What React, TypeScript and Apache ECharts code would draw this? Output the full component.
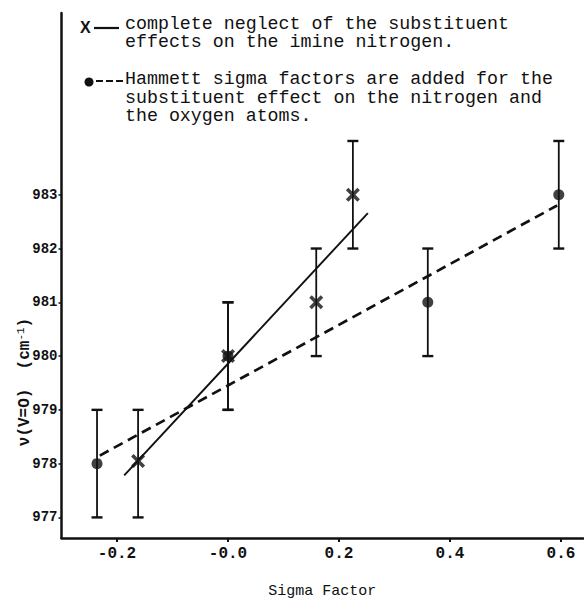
import React, { useEffect, useRef } from "react";
import * as echarts from "echarts";

// ---- data ----
const dotX = [-0.236, 0.0, 0.36, 0.596];
const dotY = [978.0, 980.0, 981.0, 983.0];
const dotLow = [977, 979, 980, 982];
const dotHigh = [979, 981, 982, 984];

const crossX = [-0.162, 0.0, 0.159, 0.225];
const crossY = [978.05, 980.0, 981.0, 983.0];
const crossLow = [977, 979, 980, 982];
const crossHigh = [979, 981, 982, 984];

const solidFitX = [-0.187, 0.252];
const solidFitY = [977.78, 982.66];
const dashedFitX = [-0.231, 0.593];
const dashedFitY = [978.15, 982.8];

const xTickValues = [-0.2, 0, 0.2, 0.4, 0.6];
const xTickLabels = ["-0.2", "-0.0", "0.2", "0.4", "0.6"];
const yTickValues = [977, 978, 979, 980, 981, 982, 983];
const yTickLabels = ["977", "978", "979", "980", "981", "982", "983"];

const legendCross = ["complete neglect of the substituent", "effects on the imine nitrogen."];
const legendDot = [
  "Hammett sigma factors are added for the",
  "substituent effect on the nitrogen and",
  "the oxygen atoms.",
];
const xTitle = "Sigma Factor";

const MONO = "'Liberation Mono', 'DejaVu Sans Mono', monospace";
const INK = "#111";

export default function App() {
  const ref = useRef<HTMLDivElement>(null);
  useEffect(() => {
    if (!ref.current) return;
    const chart = echarts.init(ref.current, undefined, { renderer: "svg" });

    const errData = [
      ...dotX.map((x, i) => [x, dotLow[i], dotHigh[i]]),
      ...crossX.map((x, i) => [x, crossLow[i], crossHigh[i]]),
    ];

    const option: any = {
      animation: false,
      backgroundColor: "#fff",
      grid: { left: 61.5, right: 0.8, top: 13, bottom: 56 },
      xAxis: {
        type: "value",
        min: -0.3,
        max: 0.64,
        name: xTitle,
        nameLocation: "middle",
        nameGap: 46,
        nameTextStyle: { fontFamily: MONO, fontSize: 15, color: INK },
        axisLine: { show: true, onZero: false, lineStyle: { color: INK, width: 2.5 } },
        axisTick: { show: true, customValues: xTickValues, length: 4, lineStyle: { color: INK, width: 2 } },
        axisLabel: {
          customValues: xTickValues,
          formatter: (v: number) => {
            const i = xTickValues.findIndex((t) => Math.abs(t - v) < 1e-9);
            return i >= 0 ? xTickLabels[i] : "";
          },
          fontFamily: MONO,
          fontSize: 16,
          fontWeight: "bold",
          color: INK,
          margin: 8,
        },
        splitLine: { show: false },
      },
      yAxis: {
        type: "value",
        min: 976.617,
        max: 986.38,
        axisLine: { show: true, onZero: false, lineStyle: { color: INK, width: 2.5 } },
        axisTick: { show: true, customValues: yTickValues, length: 3, lineStyle: { color: INK, width: 1.5 } },
        axisLabel: {
          customValues: yTickValues,
          formatter: (v: number) => {
            const i = yTickValues.findIndex((t) => Math.abs(t - v) < 1e-9);
            return i >= 0 ? yTickLabels[i] : "";
          },
          fontFamily: MONO,
          fontSize: 14,
          fontWeight: "bold",
          color: INK,
          margin: 4,
        },
        splitLine: { show: false },
      },
      series: [
        {
          type: "custom",
          name: "error bars",
          data: errData,
          encode: { x: 0, y: [1, 2] },
          z: 2,
          renderItem: (params: any, api: any) => {
            const x = api.value(0);
            const lo = api.coord([x, api.value(1)]);
            const hi = api.coord([x, api.value(2)]);
            const c = 5.5;
            const st = { stroke: INK, lineWidth: 1.8 };
            return {
              type: "group",
              children: [
                { type: "line", shape: { x1: lo[0], y1: lo[1], x2: hi[0], y2: hi[1] }, style: st },
                { type: "line", shape: { x1: lo[0] - c, y1: lo[1], x2: lo[0] + c, y2: lo[1] }, style: { ...st, lineWidth: 2.4 } },
                { type: "line", shape: { x1: hi[0] - c, y1: hi[1], x2: hi[0] + c, y2: hi[1] }, style: { ...st, lineWidth: 2.4 } },
              ],
            };
          },
        },
        {
          type: "line",
          name: "fit (neglect)",
          data: solidFitX.map((x, i) => [x, solidFitY[i]]),
          showSymbol: false,
          symbol: "none",
          lineStyle: { color: INK, width: 1.9 },
          z: 3,
        },
        {
          type: "line",
          name: "fit (Hammett)",
          data: dashedFitX.map((x, i) => [x, dashedFitY[i]]),
          showSymbol: false,
          symbol: "none",
          lineStyle: { color: INK, width: 2.7, type: [10, 6] },
          z: 3,
        },
        {
          type: "scatter",
          name: "Hammett",
          data: dotX.map((x, i) => [x, dotY[i]]),
          symbol: "circle",
          symbolSize: 11,
          itemStyle: { color: INK },
          z: 4,
        },
        {
          type: "scatter",
          name: "neglect",
          data: crossX.map((x, i) => [x, crossY[i]]),
          symbol: "path://M0,1.8 L1.8,0 L5,3.2 L8.2,0 L10,1.8 L6.8,5 L10,8.2 L8.2,10 L5,6.8 L1.8,10 L0,8.2 L3.2,5 Z",
          symbolSize: 14,
          itemStyle: { color: INK },
          z: 5,
        },
      ],
      graphic: [
        {
          type: "text",
          x: 80,
          y: 27,
          style: { text: "X", fontFamily: "'Liberation Sans', Arial, sans-serif", fontWeight: "bold", fontSize: 16, fill: INK, verticalAlign: "middle", align: "left" },
        },
        { type: "line", shape: { x1: 94, y1: 28, x2: 119, y2: 28 }, style: { stroke: INK, lineWidth: 2.2 } },
        {
          type: "text",
          x: 125,
          y: 14.5,
          style: { text: legendCross.join("\n"), fontFamily: MONO, fontSize: 18.3, lineHeight: 18.5, fill: INK, verticalAlign: "top", align: "left" },
        },
        { type: "circle", shape: { cx: 89, cy: 82, r: 4.5 }, style: { fill: INK } },
        { type: "line", shape: { x1: 96, y1: 81, x2: 124, y2: 81 }, style: { stroke: INK, lineWidth: 2.2, lineDash: [7, 3] } },
        {
          type: "text",
          x: 125,
          y: 70,
          style: { text: legendDot.join("\n"), fontFamily: MONO, fontSize: 18.3, lineHeight: 18.5, fill: INK, verticalAlign: "top", align: "left" },
        },
        {
          type: "text",
          x: 25,
          y: 382,
          rotation: Math.PI / 2,
          style: {
            text: "ν(V=O)  (cm{sup|-1})",
            rich: { sup: { fontFamily: MONO, fontSize: 11, padding: [0, 0, 8, 0], fill: INK } },
            fontFamily: MONO,
            fontSize: 16,
            fontWeight: "bold",
            fill: INK,
            align: "center",
            verticalAlign: "middle",
          },
        },
      ],
    };

    chart.setOption(option);
    return () => chart.dispose();
  }, []);

  return (
    <div
      ref={ref}
      style={{ position: "absolute", left: 0, top: 0, width: 584, height: 604, background: "#fff" }}
    />
  );
}
